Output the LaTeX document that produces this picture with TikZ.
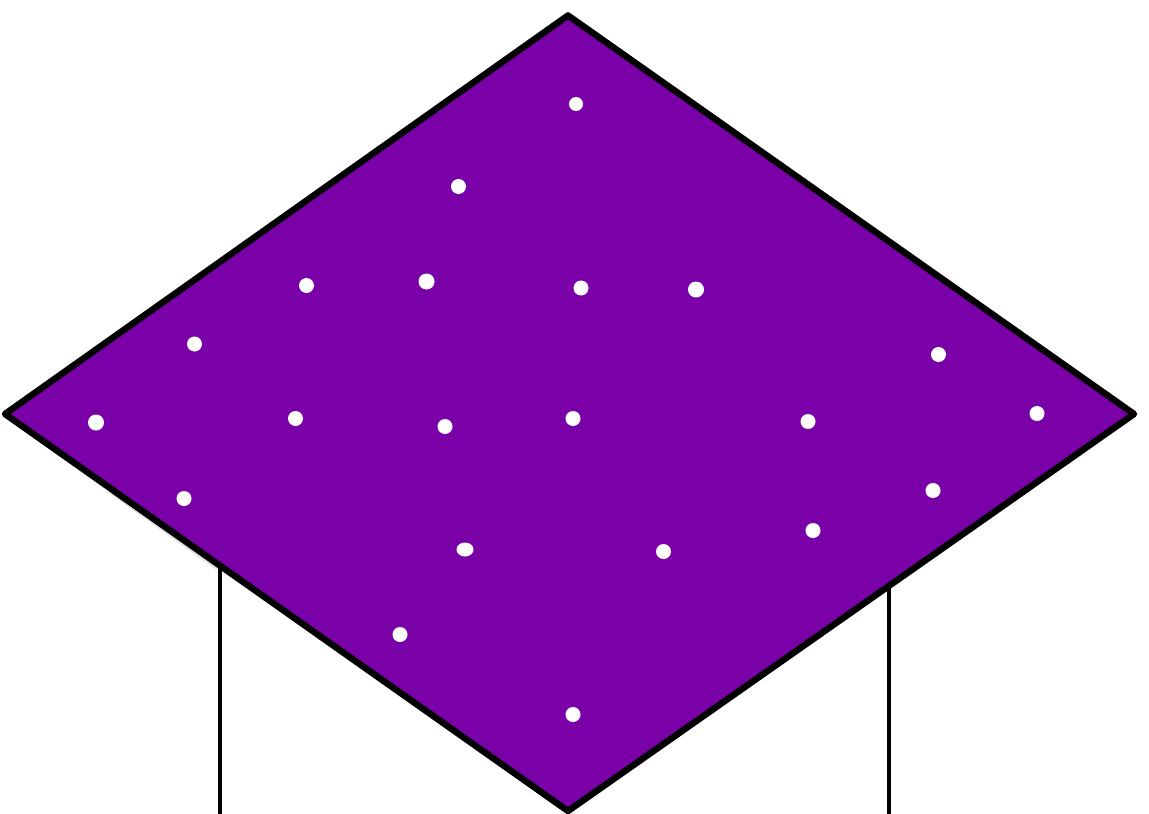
\documentclass[tikz,border=0pt]{standalone}
\definecolor{plate}{RGB}{122,0,168}
\begin{document}
\begin{tikzpicture}[x=1pt,y=-1pt,line join=round]
\useasboundingbox[fill=white] (0,0) rectangle (1149,814);
\draw[line width=3.2pt] (220,565) -- (220,814);
\draw[line width=3.2pt] (889,585) -- (889,814);
\draw[draw=black!12,line width=6pt] (110,490) -- (218,567);
\draw[fill=plate,draw=black,line width=6.5pt] (568,15.500) -- (1134,414) -- (568,811) -- (5,414) -- cycle;
\foreach \x/\y/\s in {576/104/14,458.500/186.500/15,306.500/285.500/15,426.500/281.500/16,581/288/15,696/289.500/16,194.500/344/15,938.500/354.500/15,96/422.500/16,295.500/418.500/15,445/426.500/15,573/418.500/15,808/421.500/15,1037/413.500/15,184/498.500/15,933/490.500/15,813/530.500/15,663.500/551.500/15,400/634.500/15,573/714.500/15}
  \fill[white] (\x,\y) circle[radius=\s/2];
\fill[white] (465,549.500) ellipse[x radius=8.500,y radius=7];
\end{tikzpicture}
\end{document}
